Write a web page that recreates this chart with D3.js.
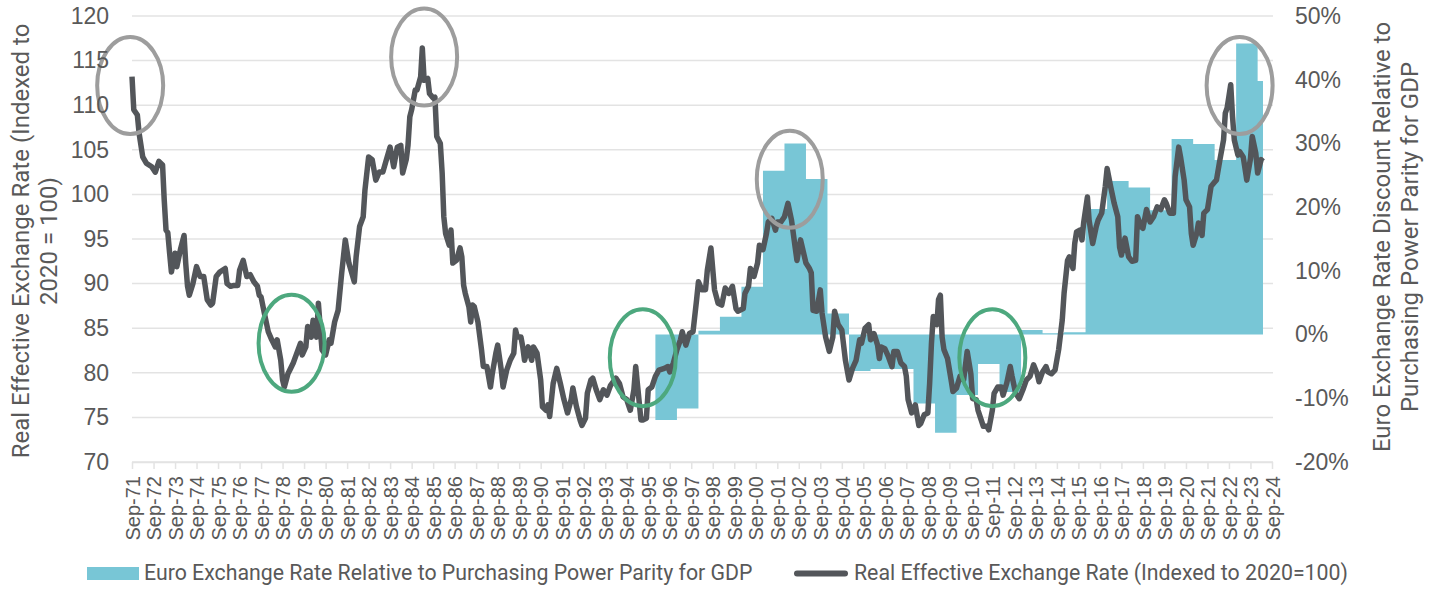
<!DOCTYPE html>
<html>
<head>
<meta charset="utf-8">
<script src="https://cdn.jsdelivr.net/npm/d3@7"></script>
<style>
    body { margin: 0; background: #fff; }
    svg { display: block; font-family: Roboto, "Open Sans", sans-serif; }
    .axis text { fill: #595959; }
</style>
</head>
<body>
<div class="chart-container"></div>
<script>
// Real effective exchange rate, monthly readings (2020 = 100)
let reerSeries = [
    ["1971-09", 113.2], ["1971-10", 109.5], ["1971-12", 108.9], ["1972-01", 106.8], ["1972-03", 104.2],
    ["1972-05", 103.5], ["1972-08", 103.1], ["1972-10", 102.5], ["1972-12", 103.7], ["1973-02", 103.3],
    ["1973-03", 99.4], ["1973-04", 96.0], ["1973-05", 95.7], ["1973-06", 93.4], ["1973-07", 91.3],
    ["1973-09", 93.4], ["1973-10", 91.9], ["1973-12", 93.8], ["1974-02", 95.4], ["1974-03", 92.3],
    ["1974-04", 89.7], ["1974-05", 88.7], ["1974-07", 90.0], ["1974-09", 91.9], ["1974-11", 90.8],
    ["1975-01", 90.8], ["1975-03", 88.2], ["1975-05", 87.6], ["1975-06", 87.8], ["1975-08", 90.8],
    ["1975-10", 91.3], ["1976-01", 91.7], ["1976-02", 90.0], ["1976-04", 89.7], ["1976-06", 89.8],
    ["1976-08", 89.8], ["1976-09", 91.5], ["1976-11", 92.6], ["1977-01", 90.8], ["1977-03", 91.0],
    ["1977-05", 90.2], ["1977-07", 89.7], ["1977-08", 88.7], ["1977-09", 88.5], ["1977-11", 86.5],
    ["1978-01", 84.6], ["1978-03", 83.7], ["1978-05", 82.9], ["1978-06", 83.7], ["1978-08", 81.4],
    ["1978-09", 79.2], ["1978-10", 78.4], ["1978-12", 79.9], ["1979-01", 80.3], ["1979-03", 81.1],
    ["1979-05", 82.2], ["1979-07", 83.3], ["1979-08", 82.0], ["1979-10", 82.9], ["1979-11", 85.2],
    ["1980-01", 84.0], ["1980-02", 85.9], ["1980-04", 84.0], ["1980-05", 87.8], ["1980-07", 82.6],
    ["1980-09", 82.0], ["1980-11", 83.7], ["1980-12", 83.3], ["1981-02", 85.7], ["1981-04", 87.0],
    ["1981-06", 91.2], ["1981-08", 94.9], ["1981-10", 92.3], ["1982-01", 90.2], ["1982-02", 93.0],
    ["1982-04", 96.4], ["1982-06", 97.5], ["1982-07", 100.5], ["1982-09", 104.2], ["1982-11", 103.9],
    ["1983-01", 101.6], ["1983-03", 102.5], ["1983-05", 102.5], ["1983-07", 103.9], ["1983-09", 105.3],
    ["1983-11", 103.1], ["1984-01", 105.3], ["1984-03", 105.5], ["1984-04", 102.4], ["1984-06", 103.9],
    ["1984-07", 105.5], ["1984-08", 108.7], ["1984-09", 109.5], ["1984-11", 111.7], ["1984-12", 111.7],
    ["1985-02", 113.2], ["1985-03", 116.4], ["1985-04", 112.8], ["1985-06", 113.0], ["1985-07", 111.3],
    ["1985-09", 110.8], ["1985-10", 110.9], ["1985-11", 106.5], ["1986-01", 105.7], ["1986-02", 102.4],
    ["1986-03", 97.5], ["1986-04", 95.6], ["1986-06", 94.3], ["1986-07", 96.0], ["1986-08", 92.3],
    ["1986-10", 92.6], ["1986-12", 94.0], ["1987-01", 93.0], ["1987-02", 89.8], ["1987-03", 88.9],
    ["1987-05", 87.4], ["1987-06", 85.7], ["1987-07", 87.6], ["1987-08", 87.4], ["1987-10", 85.7],
    ["1987-12", 82.6], ["1988-01", 80.7], ["1988-03", 80.7], ["1988-05", 78.4], ["1988-06", 79.9],
    ["1988-08", 82.2], ["1988-09", 83.1], ["1988-11", 80.3], ["1988-12", 78.4], ["1989-02", 80.3],
    ["1989-04", 81.4], ["1989-06", 82.2], ["1989-07", 84.8], ["1989-08", 84.0], ["1989-10", 84.0],
    ["1989-11", 82.9], ["1989-12", 81.4], ["1990-02", 82.9], ["1990-04", 81.4], ["1990-05", 82.9],
    ["1990-07", 82.2], ["1990-09", 79.2], ["1990-10", 76.2], ["1990-12", 75.8], ["1991-01", 76.4],
    ["1991-02", 75.1], ["1991-04", 78.8], ["1991-06", 80.5], ["1991-08", 78.8], ["1991-10", 77.0],
    ["1991-12", 75.5], ["1992-02", 77.0], ["1992-03", 78.3], ["1992-05", 76.2], ["1992-07", 74.7],
    ["1992-08", 74.1], ["1992-10", 74.9], ["1992-11", 77.7], ["1993-01", 79.2], ["1993-02", 79.4],
    ["1993-04", 78.1], ["1993-06", 77.0], ["1993-08", 78.1], ["1993-10", 77.5], ["1993-12", 78.6],
    ["1994-03", 79.4], ["1994-05", 78.8], ["1994-07", 77.3], ["1994-09", 77.0], ["1994-11", 75.8],
    ["1995-01", 78.1], ["1995-02", 80.7], ["1995-03", 78.8], ["1995-05", 74.7], ["1995-06", 74.7],
    ["1995-08", 74.9], ["1995-09", 78.1], ["1995-11", 78.4], ["1996-01", 79.6], ["1996-03", 80.3],
    ["1996-06", 80.5], ["1996-08", 80.7], ["1996-09", 80.1], ["1996-11", 81.1], ["1997-01", 82.6],
    ["1997-03", 83.7], ["1997-04", 84.6], ["1997-06", 83.1], ["1997-08", 84.4], ["1997-10", 84.6],
    ["1997-12", 88.2], ["1998-01", 90.2], ["1998-03", 89.3], ["1998-05", 89.3], ["1998-06", 91.5],
    ["1998-08", 94.0], ["1998-10", 89.3], ["1998-12", 87.8], ["1999-02", 87.6], ["1999-04", 89.5],
    ["1999-06", 88.9], ["1999-08", 89.7], ["1999-10", 87.2], ["1999-11", 86.9], ["2000-02", 87.2],
    ["2000-03", 88.9], ["2000-05", 89.7], ["2000-06", 91.7], ["2000-08", 90.8], ["2000-10", 92.3],
    ["2000-11", 94.3], ["2001-01", 93.8], ["2001-03", 95.6], ["2001-04", 96.9], ["2001-06", 97.3],
    ["2001-08", 96.0], ["2001-09", 96.9], ["2001-11", 96.9], ["2002-01", 97.5], ["2002-03", 99.0],
    ["2002-05", 97.1], ["2002-07", 94.1], ["2002-08", 92.6], ["2002-10", 94.9], ["2003-01", 92.3],
    ["2003-03", 91.7], ["2003-04", 91.2], ["2003-05", 87.0], ["2003-07", 86.9], ["2003-09", 89.3],
    ["2003-10", 86.7], ["2003-12", 84.0], ["2004-02", 82.4], ["2004-04", 84.0], ["2004-05", 86.9],
    ["2004-07", 85.4], ["2004-09", 84.8], ["2004-11", 81.4], ["2005-01", 79.2], ["2005-03", 80.5],
    ["2005-05", 81.4], ["2005-07", 83.7], ["2005-08", 83.3], ["2005-10", 85.0], ["2005-12", 85.4],
    ["2006-01", 83.7], ["2006-03", 84.4], ["2006-05", 83.1], ["2006-06", 81.6], ["2006-07", 82.9],
    ["2006-09", 82.7], ["2006-11", 81.8], ["2007-01", 80.7], ["2007-02", 82.4], ["2007-04", 82.4],
    ["2007-06", 81.1], ["2007-08", 80.7], ["2007-09", 79.6], ["2007-10", 77.0], ["2007-12", 75.5],
    ["2008-02", 76.4], ["2008-04", 74.1], ["2008-05", 74.3], ["2008-07", 75.3], ["2008-09", 75.5],
    ["2008-10", 78.8], ["2008-11", 83.3], ["2008-12", 86.3], ["2009-02", 85.4], ["2009-03", 88.2],
    ["2009-04", 88.7], ["2009-05", 84.0], ["2009-06", 82.6], ["2009-08", 81.6], ["2009-10", 79.2],
    ["2009-11", 77.9], ["2010-01", 78.3], ["2010-03", 79.6], ["2010-05", 79.2], ["2010-07", 82.4],
    ["2010-09", 79.9], ["2010-10", 77.1], ["2010-12", 77.0], ["2011-01", 75.8], ["2011-04", 74.0],
    ["2011-06", 74.0], ["2011-07", 73.6], ["2011-09", 75.8], ["2011-10", 77.7], ["2011-12", 78.4],
    ["2012-02", 78.4], ["2012-03", 77.5], ["2012-05", 78.8], ["2012-07", 80.7], ["2012-08", 79.6],
    ["2012-10", 77.7], ["2012-12", 77.1], ["2013-02", 78.1], ["2013-04", 79.2], ["2013-06", 79.6],
    ["2013-08", 80.9], ["2013-10", 79.9], ["2013-11", 79.0], ["2014-01", 80.1], ["2014-03", 80.7],
    ["2014-04", 80.1], ["2014-06", 79.9], ["2014-08", 80.3], ["2014-10", 82.6], ["2014-12", 85.9],
    ["2015-01", 88.9], ["2015-03", 92.6], ["2015-04", 93.0], ["2015-06", 91.7], ["2015-07", 94.5],
    ["2015-08", 95.8], ["2015-10", 96.0], ["2015-11", 94.9], ["2015-12", 96.9], ["2016-02", 99.7],
    ["2016-03", 97.1], ["2016-05", 94.5], ["2016-07", 96.4], ["2016-08", 97.1], ["2016-10", 97.9],
    ["2016-12", 100.9], ["2017-01", 102.9], ["2017-03", 100.9], ["2017-05", 99.0], ["2017-07", 97.5],
    ["2017-08", 94.1], ["2017-09", 93.2], ["2017-11", 95.1], ["2018-01", 93.0], ["2018-03", 92.5],
    ["2018-05", 92.6], ["2018-06", 97.5], ["2018-08", 96.4], ["2018-09", 96.2], ["2018-11", 98.3],
    ["2019-01", 96.9], ["2019-03", 97.5], ["2019-05", 98.6], ["2019-07", 98.3], ["2019-09", 99.4],
    ["2019-10", 99.0], ["2019-12", 97.9], ["2020-02", 97.9], ["2020-03", 102.0], ["2020-05", 105.3],
    ["2020-06", 104.2], ["2020-08", 101.6], ["2020-09", 99.4], ["2020-11", 98.6], ["2020-12", 95.6],
    ["2021-01", 94.3], ["2021-03", 95.6], ["2021-04", 96.8], ["2021-06", 95.4], ["2021-07", 97.9],
    ["2021-09", 98.3], ["2021-11", 100.9], ["2022-01", 101.4], ["2022-02", 101.6], ["2022-04", 103.9],
    ["2022-06", 106.1], ["2022-07", 109.1], ["2022-08", 109.7], ["2022-09", 111.0], ["2022-10", 112.3],
    ["2022-11", 108.7], ["2022-12", 106.1], ["2023-02", 104.4], ["2023-03", 104.8], ["2023-05", 104.2],
    ["2023-06", 102.9], ["2023-07", 101.6], ["2023-09", 104.0], ["2023-10", 106.5], ["2023-12", 104.6],
    ["2024-01", 102.4], ["2024-03", 103.9], ["2024-04", 103.7]
]

// Euro vs PPP for GDP, one value per year (fraction)
let pppYears = [1996, 1997, 1998, 1999, 2000, 2001, 2002, 2003, 2004, 2005, 2006, 2007, 2008, 2009,
    2010, 2011, 2012, 2013, 2014, 2015, 2016, 2017, 2018, 2019, 2020, 2021, 2022, 2023, 2024]
let pppDiscount = [-0.134, -0.116, 0.006, 0.028, 0.075, 0.257, 0.300, 0.244, 0.033, -0.057, -0.054, -0.054,
    -0.108, -0.154, -0.095, -0.046, -0.090, 0.007, 0.002, 0.0035, 0.197, 0.241, 0.231, 0.195, 0.307,
    0.299, 0.274, 0.457, 0.398]
let pppEnd = "2024-04"

let leftTicks = [70, 75, 80, 85, 90, 95, 100, 105, 110, 115, 120]
let rightTicks = [-0.2, -0.1, 0, 0.1, 0.2, 0.3, 0.4, 0.5]
let tickYears = d3.range(1971, 2025)   // one label every September

// annotation ellipses (centre month, index value)
let grayCircles = [["1971-08", 112.2], ["1985-04", 115.4], ["2002-04", 101.7], ["2023-03", 112.2]]
let greenCircles = [["1979-02", 83.3], ["1995-06", 81.7], ["2011-09", 81.7]]

let colors = {
    fill: "#78c6d6",
    line: "#53565a",
    text: "#595959",
    grid: "#e3e3e3",
    gray: "#9d9d9d",
    green: "#4da87e"
}

const parseMonth = d3.timeParse("%Y-%m")

const W = 1436, H = 590
const margin = { top: 16, right: 164, bottom: 128, left: 132 }
const width = W - margin.left - margin.right
const height = H - margin.top - margin.bottom

const xScale = d3.scaleTime()
    .domain([new Date(1971, 8, 1), new Date(2024, 8, 1)])
    .range([0, width])

const yLeft = d3.scaleLinear().domain([70, 120]).range([height, 0])
const yRight = d3.scaleLinear().domain([-0.2, 0.5]).range([height, 0])

const svg = d3.select(".chart-container")
    .append("svg")
    .attr("width", W)
    .attr("height", H)

const g = svg.append("g")
    .attr("transform", `translate(${margin.left}, ${margin.top})`)

// Gridlines
g.append("g")
    .selectAll("line")
    .data(leftTicks)
    .join("line")
    .attr("x1", 0)
    .attr("x2", width + 1)
    .attr("y1", d => yLeft(d))
    .attr("y2", d => yLeft(d))
    .attr("stroke", colors.grid)
    .attr("stroke-width", 1.5)

// PPP step area
let pppData = pppYears.map((y, i) => ({ date: new Date(y, 0, 1), value: pppDiscount[i] }))
pppData.push({ date: parseMonth(pppEnd), value: pppDiscount[pppDiscount.length - 1] })

const area = d3.area()
    .x(d => xScale(d.date))
    .y0(yRight(0))
    .y1(d => yRight(d.value))
    .curve(d3.curveStepAfter)

g.append("path")
    .datum(pppData)
    .attr("d", area)
    .attr("fill", colors.fill)

// REER line
let reerData = reerSeries.map(d => ({ date: parseMonth(d[0]), value: d[1] }))

const line = d3.line()
    .x(d => xScale(d.date))
    .y(d => yLeft(d.value))

g.append("path")
    .datum(reerData)
    .attr("d", line)
    .attr("fill", "none")
    .attr("stroke", colors.line)
    .attr("stroke-width", 5.5)
    .attr("stroke-linejoin", "round")

// Circles
function drawCircles(data, color) {
    g.append("g")
        .selectAll("ellipse")
        .data(data)
        .join("ellipse")
        .attr("cx", d => xScale(parseMonth(d[0])))
        .attr("cy", d => yLeft(d[1]))
        .attr("rx", 33)
        .attr("ry", 48.5)
        .attr("fill", "none")
        .attr("stroke", color)
        .attr("stroke-width", 4)
}
drawCircles(grayCircles, colors.gray)
drawCircles(greenCircles, colors.green)

// Axes
const xAxis = d3.axisBottom(xScale)
    .tickValues(tickYears.map(y => new Date(y, 8, 1)))
    .tickFormat(d3.timeFormat("%b-%y"))
    .tickSizeInner(7)
    .tickSizeOuter(0)

const xAxisDraw = g.append("g")
    .attr("class", "x axis")
    .attr("transform", `translate(0, ${height})`)
    .call(xAxis)

xAxisDraw.select(".domain").attr("stroke", colors.grid).attr("stroke-width", 1.5)
xAxisDraw.selectAll(".tick line").attr("stroke", colors.grid).attr("stroke-width", 1.5)
xAxisDraw.selectAll("text")
    .attr("transform", "rotate(-90)")
    .attr("text-anchor", "end")
    .attr("x", -14)
    .attr("y", 0)
    .attr("dy", "0.36em")
    .style("font-size", "20px")

const yAxisDraw = g.append("g")
    .attr("class", "y axis")
    .call(d3.axisLeft(yLeft).tickValues(leftTicks).tickSize(0).tickPadding(23))
yAxisDraw.select(".domain").remove()
yAxisDraw.selectAll("text").style("font-size", "23px")

const yAxisRightDraw = g.append("g")
    .attr("class", "y axis")
    .attr("transform", `translate(${width}, 0)`)
    .call(d3.axisRight(yRight).tickValues(rightTicks).tickSize(0).tickPadding(23)
        .tickFormat(d => Math.round(d * 100) + "%"))
yAxisRightDraw.select(".domain").remove()
yAxisRightDraw.selectAll("text").style("font-size", "23px")

// Axis titles
function rotatedTitle(x, y, lines) {
    lines.forEach((t, i) => {
        svg.append("text")
            .attr("transform", `translate(${x + i * 28}, ${y}) rotate(-90)`)
            .attr("text-anchor", "middle")
            .attr("fill", colors.text)
            .style("font-size", "24px")
            .text(t)
    })
}
rotatedTitle(28.5, 241, ["Real Effective Exchange Rate (Indexed to", "2020 = 100)"])
rotatedTitle(1390, 237, ["Euro Exchange Rate Discount Relative to", "Purchasing Power Parity for GDP"])

// Legend
const legend = svg.append("g").attr("class", "legend")

legend.append("rect")
    .attr("x", 87).attr("y", 567)
    .attr("width", 52).attr("height", 13)
    .attr("fill", colors.fill)

legend.append("text")
    .attr("x", 144).attr("y", 580)
    .attr("fill", colors.text)
    .style("font-size", "21.3px")
    .text("Euro Exchange Rate Relative to Purchasing Power Parity for GDP")

legend.append("line")
    .attr("x1", 797).attr("x2", 845)
    .attr("y1", 573.5).attr("y2", 573.5)
    .attr("stroke", colors.line)
    .attr("stroke-width", 6)
    .attr("stroke-linecap", "round")

legend.append("text")
    .attr("x", 854).attr("y", 580)
    .attr("fill", colors.text)
    .style("font-size", "21.3px")
    .text("Real Effective Exchange Rate (Indexed to 2020=100)")
</script>
</body>
</html>
